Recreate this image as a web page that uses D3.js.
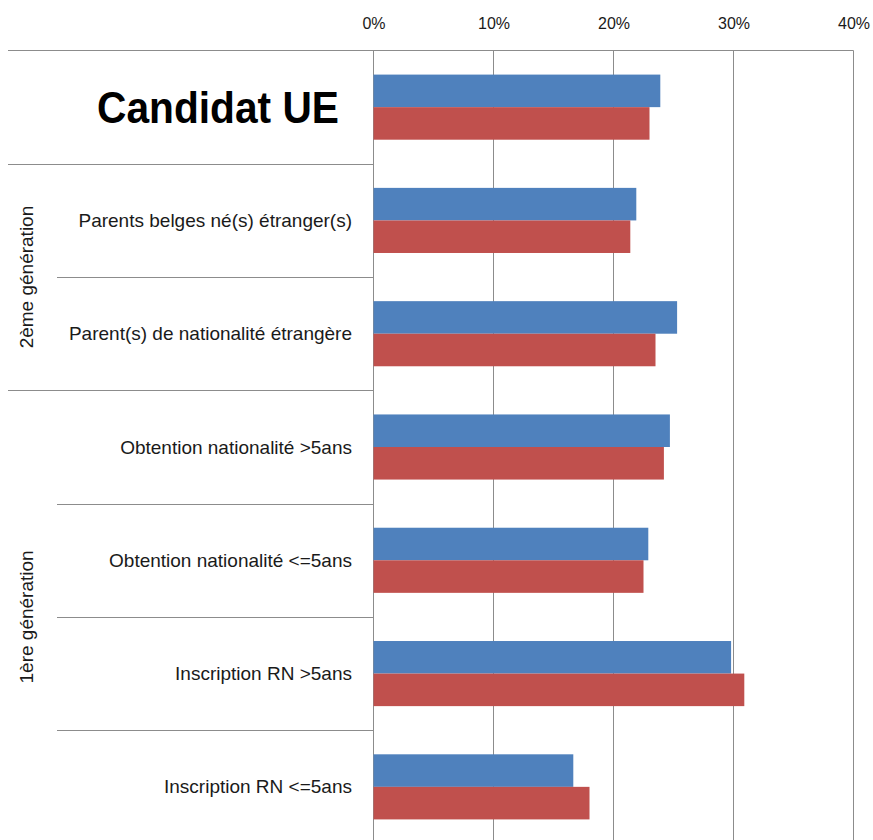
<!DOCTYPE html>
<html>
<head>
<meta charset="utf-8">
<script src="https://cdn.jsdelivr.net/npm/d3@7"></script>
<style>
  body { margin: 0; background: #fff; }
  svg text { font-family: "Liberation Sans", Arial, sans-serif; fill: #1a1a1a; }
</style>
</head>
<body>
<div id="chart"></div>
<script>
// categories from top to bottom
const categories = [
  "Candidat UE",
  "Parents belges né(s) étranger(s)",
  "Parent(s) de nationalité étrangère",
  "Obtention nationalité >5ans",
  "Obtention nationalité <=5ans",
  "Inscription RN >5ans",
  "Inscription RN <=5ans"
];
const groupOfCategory = ["", "2ème génération", "2ème génération",
  "1ère génération", "1ère génération", "1ère génération", "1ère génération"];

const seriesNames = ["serie1", "serie2"];
const serie1 = [0.239, 0.219, 0.253, 0.247, 0.229, 0.298, 0.1665];
const serie2 = [0.230, 0.214, 0.235, 0.242, 0.225, 0.309, 0.180];
const tickValues = [0, 0.1, 0.2, 0.3, 0.4];

const colors = { serie1: "#4F81BD", serie2: "#C0504D" };
const gridColor = "#8c8c8c";

const width = 873, height = 840;
const plotTop = 50.5, plotBottom = 843.5;

const svg = d3.select("#chart").append("svg")
  .attr("width", width)
  .attr("height", height);

const x = d3.scaleLinear().domain([0, 0.4]).range([373.5, 853.5]);

const y = d3.scaleBand().domain(d3.range(categories.length))
  .range([plotTop, plotBottom]).padding(0);

const ySub = d3.scaleBand().domain(seriesNames)
  .range([0, y.bandwidth()]).paddingInner(0).paddingOuter(0.74);

// vertical gridlines
svg.append("g").selectAll("line")
  .data(tickValues)
  .join("line")
  .attr("x1", d => x(d)).attr("x2", d => x(d))
  .attr("y1", plotTop).attr("y2", plotBottom)
  .attr("stroke", gridColor).attr("stroke-width", 1);

// top axis line
svg.append("line")
  .attr("x1", 8).attr("x2", x(0.4))
  .attr("y1", plotTop).attr("y2", plotTop)
  .attr("stroke", gridColor);

// tick labels
const axis = svg.append("g")
  .attr("transform", "translate(0," + 29 + ")")
  .call(d3.axisTop(x).tickValues(tickValues).tickSize(0).tickPadding(0).tickFormat(d3.format(".0%")));
axis.select(".domain").remove();
axis.selectAll("text")
  .attr("dy", 0)
  .style("font-size", "16px")
  .style("font-family", "'Liberation Sans', Arial, sans-serif")
  .attr("fill", "#1a1a1a");

// category separators
const bounds = d3.range(1, categories.length + 1);
svg.append("g").selectAll("line")
  .data(bounds)
  .join("line")
  .attr("x1", i => (i < categories.length && groupOfCategory[i] === groupOfCategory[i - 1]) ? 57 : 8)
  .attr("x2", x(0))
  .attr("y1", i => Math.round(y(i - 1) + y.bandwidth()) + 0.5)
  .attr("y2", i => Math.round(y(i - 1) + y.bandwidth()) + 0.5)
  .attr("stroke", gridColor);

// bars
const rows = svg.append("g").selectAll("g")
  .data(categories.map((c, i) => ({ i, values: [serie1[i], serie2[i]] })))
  .join("g")
  .attr("transform", d => "translate(0," + y(d.i) + ")");

rows.selectAll("rect")
  .data(d => d.values.map((v, k) => ({ key: seriesNames[k], v })))
  .join("rect")
  .attr("x", x(0))
  .attr("y", d => ySub(d.key))
  .attr("width", d => x(d.v) - x(0))
  .attr("height", ySub.bandwidth())
  .attr("fill", d => colors[d.key]);

// category labels
svg.append("g").selectAll("text")
  .data(categories)
  .join("text")
  .attr("x", (d, i) => i === 0 ? 339 : 352)
  .attr("y", (d, i) => y(i) + y.bandwidth() / 2)
  .attr("text-anchor", "end")
  .attr("dominant-baseline", "central")
  .style("font-size", (d, i) => i === 0 ? "44px" : "19px")
  .style("font-weight", (d, i) => i === 0 ? "bold" : "normal")
  .attr("textLength", (d, i) => i === 0 ? 242 : null)
  .attr("lengthAdjust", "spacingAndGlyphs")
  .style("fill", (d, i) => i === 0 ? "#000" : "#1a1a1a")
  .text(d => d);

// group labels (rotated)
const groups = Array.from(new Set(groupOfCategory.filter(g => g !== "")));
svg.append("g").selectAll("text")
  .data(groups)
  .join("text")
  .attr("transform", g => {
    const idx = groupOfCategory.map((v, i) => v === g ? i : -1).filter(i => i >= 0);
    const cy = (y(idx[0]) + y(idx[idx.length - 1]) + y.bandwidth()) / 2;
    return "translate(26," + cy + ") rotate(-90)";
  })
  .attr("text-anchor", "middle")
  .attr("dominant-baseline", "central")
  .style("font-size", "19px")
  .text(g => g);
</script>
</body>
</html>
